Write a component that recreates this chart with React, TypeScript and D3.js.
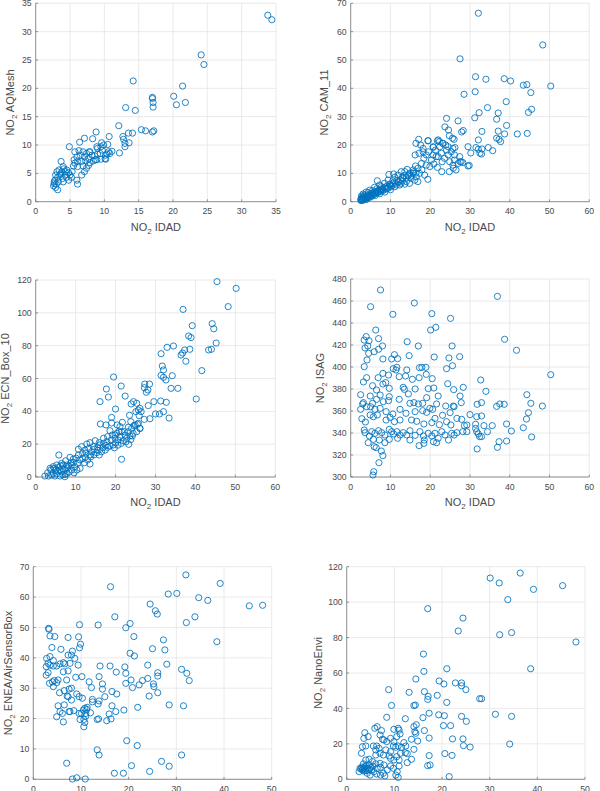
import React from 'react';
import * as d3 from 'd3';

type Pt = [number, number];

// NO2 IDAD (x) against each sensor (y)
const aqmeshPts: Pt[] = [
  [33.8, 32.9], [34.4, 32.1], [24.1, 25.9], [24.5, 24.2], [14.2, 21.3], [21.4, 20.4], [17.0, 18.4], [17.0, 18.2],
  [17.1, 17.5], [17.1, 16.7], [20.1, 18.6], [20.5, 17.1], [21.8, 17.5], [13.1, 16.6], [14.5, 16.1], [12.1, 13.4],
  [15.4, 12.7], [16.0, 12.5], [17.0, 12.3], [17.2, 12.5], [13.5, 12.1], [14.1, 12.1], [8.8, 12.3], [12.7, 11.5],
  [12.8, 11.0], [10.7, 11.5], [7.1, 11.2], [8.3, 11.1], [13.0, 10.3], [13.0, 9.7], [13.6, 10.4], [6.4, 10.5],
  [4.9, 9.7], [12.2, 8.6], [9.6, 10.4], [9.9, 10.0], [9.5, 9.7], [10.5, 10.1], [11.1, 8.9], [10.8, 8.5],
  [10.2, 8.2], [9.7, 9.1], [9.0, 9.4], [9.0, 8.4], [10.2, 7.5], [9.5, 7.5], [8.7, 7.4], [8.9, 9.7],
  [5.7, 8.8], [6.3, 9.0], [6.9, 8.8], [7.4, 8.5], [7.8, 8.8], [8.2, 8.2], [7.7, 7.6], [7.1, 7.9],
  [6.5, 8.2], [6.0, 7.9], [5.6, 7.4], [6.1, 7.1], [6.7, 7.1], [7.3, 7.2], [7.9, 6.9], [8.4, 7.2],
  [8.6, 8.1], [5.7, 6.8], [5.5, 6.3], [6.1, 6.2], [6.9, 6.3], [7.4, 5.9], [7.1, 5.3], [6.7, 4.7],
  [6.0, 3.8], [6.1, 3.1], [7.7, 6.4], [8.9, 7.4], [3.7, 7.1], [4.0, 6.2], [3.4, 5.6], [3.1, 5.3],
  [3.8, 5.3], [4.5, 5.6], [4.8, 5.1], [4.3, 4.7], [3.5, 4.7], [2.9, 4.7], [3.2, 4.3], [3.9, 4.1],
  [4.5, 4.3], [5.0, 4.7], [5.3, 5.3], [2.8, 3.8], [3.3, 3.5], [4.0, 3.5], [2.7, 3.2], [2.6, 2.8],
  [2.9, 2.5], [3.2, 2.1], [2.7, 3.5], [4.8, 3.8], [4.3, 5.3], [5.2, 4.3], [7.9, 8.8], [9.4, 8.5],
  [10.6, 8.8], [10.1, 7.6], [10.4, 8.4], [3.6, 4.9], [4.1, 5.8], [3.0, 3.1],
];

const camPts: Pt[] = [
  [32.1, 66.5], [48.3, 55.3], [27.5, 50.4], [31.4, 44.1], [34.0, 43.2], [38.6, 43.4], [40.2, 42.6], [43.4, 41.1],
  [44.3, 41.3], [50.3, 40.8], [31.3, 38.8], [28.5, 37.9], [45.3, 38.5], [39.1, 35.3], [34.4, 33.2], [32.3, 31.4],
  [37.1, 31.3], [44.7, 31.5], [45.5, 32.6], [31.2, 29.6], [24.1, 29.4], [27.0, 28.5], [36.7, 29.1], [39.2, 26.9],
  [23.7, 26.4], [24.6, 25.3], [28.3, 25.1], [27.9, 24.6], [37.1, 24.9], [33.0, 24.8], [41.9, 23.9], [44.4, 24.1],
  [38.7, 23.9], [36.7, 22.4], [37.3, 22.0], [37.7, 21.2], [24.8, 23.3], [25.6, 22.4], [26.0, 22.0], [32.1, 21.8],
  [29.5, 19.4], [26.2, 19.1], [23.9, 20.0], [23.1, 20.6], [31.5, 19.1], [32.1, 18.5], [33.0, 18.6], [34.6, 19.1],
  [35.7, 18.0], [30.2, 17.2], [32.5, 17.1], [32.9, 16.8], [17.1, 22.0], [16.4, 20.6], [19.5, 21.5], [21.8, 21.5],
  [22.3, 21.2], [20.8, 19.2], [27.5, 14.1], [28.2, 13.8], [29.8, 12.8], [25.8, 11.8], [24.8, 10.6], [26.5, 11.2],
  [22.9, 10.6], [19.4, 7.9], [16.2, 16.5], [6.7, 7.4], [9.6, 9.6], [10.8, 9.8], [11.9, 9.4], [13.0, 8.6],
  [13.6, 10.6], [14.2, 11.4], [14.8, 10.0], [15.7, 11.2], [16.3, 12.6], [16.9, 11.8], [17.8, 13.5], [18.4, 15.3],
  [19.0, 16.5], [19.6, 17.6], [20.3, 14.7], [20.7, 16.5], [21.3, 18.2], [22.0, 15.9], [22.8, 17.1], [23.6, 15.3],
  [24.5, 16.5], [24.9, 14.1], [25.7, 12.9], [26.1, 14.7], [27.0, 13.5], [27.8, 14.1], [19.0, 12.9], [19.9, 12.4],
  [20.9, 13.3], [21.8, 12.1], [17.9, 11.2], [17.3, 10.0], [16.5, 8.8], [15.2, 8.2], [14.0, 7.1], [12.7, 6.5],
  [11.5, 5.9], [10.2, 5.3], [9.0, 4.7], [7.7, 4.1], [6.4, 3.5], [5.2, 2.9], [4.3, 2.4], [3.5, 1.8],
  [2.8, 1.2], [2.5, 0.8], [9.4, 7.6], [10.6, 7.4], [11.9, 7.1], [8.5, 6.5], [7.3, 5.9], [6.0, 5.1],
  [4.8, 4.1], [3.9, 3.4], [3.1, 2.7], [2.7, 2.0], [3.3, 0.8], [3.9, 1.4], [4.8, 2.0], [5.6, 2.7],
  [6.9, 3.2], [8.1, 3.9], [9.4, 4.7], [11.1, 5.3], [12.3, 5.9], [13.6, 6.2], [14.8, 6.5], [16.1, 7.6],
  [16.9, 7.1], [13.1, 8.2], [14.4, 9.1], [15.7, 10.0], [11.1, 8.6], [9.8, 6.2], [7.7, 5.3], [12.7, 10.6],
  [18.6, 9.4], [23.2, 20.6], [19.4, 21.5], [22.0, 21.8], [24.5, 19.4], [25.7, 18.8], [24.1, 18.2], [25.3, 17.6],
  [26.1, 16.5], [27.4, 15.9], [29.5, 12.6], [23.0, 14.1], [21.5, 15.9], [20.7, 19.4], [22.4, 19.4], [18.2, 18.8],
  [17.6, 20.0], [17.2, 17.1], [18.2, 17.6], [2.6, 0.4], [3.0, 1.0], [4.1, 1.0], [5.0, 1.6], [6.2, 2.2],
  [7.3, 2.8], [8.6, 3.4], [10.0, 4.2], [4.4, 3.2], [5.5, 3.9], [3.4, 2.3], [2.9, 1.6], [6.6, 4.6],
  [2.7, 0.6], [2.9, 0.9], [3.1, 0.5], [3.3, 1.3], [3.6, 1.1], [3.8, 0.8], [4.0, 1.8], [4.2, 1.5],
  [4.5, 2.2], [4.7, 1.7], [5.0, 2.4], [5.3, 2.0], [5.5, 3.1], [5.8, 2.4], [6.0, 3.4], [6.3, 2.9],
  [6.6, 3.8], [6.9, 3.5], [7.2, 4.2], [7.5, 3.6], [7.8, 4.6], [8.1, 4.3], [8.4, 5.0], [8.8, 4.4],
  [9.1, 5.5], [9.5, 5.1], [9.9, 6.0], [10.3, 5.7], [10.7, 6.6], [11.2, 6.4], [11.6, 7.5], [12.0, 6.8],
  [12.5, 7.8], [13.0, 7.3], [13.4, 9.2], [14.0, 8.6], [14.6, 9.4], [15.2, 9.0], [15.8, 10.5], [16.4, 10.1],
];

const ecnPts: Pt[] = [
  [45.4, 119.0], [50.2, 114.9], [36.9, 102.1], [48.2, 103.8], [44.2, 93.4], [44.6, 90.3], [39.2, 92.2], [38.3, 85.9],
  [38.9, 84.9], [45.2, 81.6], [32.9, 79.0], [34.5, 79.8], [37.3, 77.4], [38.6, 77.8], [43.3, 77.4], [44.0, 77.8],
  [36.4, 74.3], [36.8, 75.5], [31.4, 75.1], [37.6, 70.5], [31.7, 67.6], [41.6, 64.8], [32.0, 65.2], [31.4, 61.9],
  [32.0, 60.7], [32.6, 59.1], [34.2, 61.7], [19.5, 60.9], [21.4, 55.4], [17.7, 53.6], [22.4, 49.3], [18.2, 48.7],
  [20.0, 41.4], [16.1, 45.9], [27.3, 56.6], [28.5, 56.6], [27.2, 54.4], [27.7, 51.6], [28.1, 53.0], [33.9, 54.0],
  [35.6, 54.0], [40.2, 47.5], [29.6, 45.9], [31.3, 46.3], [32.7, 45.5], [23.9, 44.5], [24.5, 45.9], [25.3, 44.9],
  [25.1, 39.8], [25.7, 40.8], [26.1, 41.8], [28.2, 43.5], [26.4, 39.8], [30.0, 38.4], [31.0, 38.4], [32.0, 39.8],
  [33.4, 35.9], [28.6, 35.5], [27.2, 35.1], [25.9, 37.4], [21.5, 10.8], [23.5, 37.6], [23.8, 33.7], [23.2, 30.3],
  [24.6, 31.3], [25.5, 32.1], [26.1, 29.6], [24.2, 25.0], [23.3, 19.9], [16.2, 32.3], [17.6, 31.7], [19.0, 32.9],
  [19.0, 36.3], [20.4, 31.7], [21.1, 30.7], [21.7, 33.3], [22.2, 27.6], [20.9, 27.8], [19.9, 25.6], [18.6, 28.2],
  [3.8, 4.3], [3.2, 0.6], [4.4, 2.2], [5.0, 4.3], [5.7, 5.9], [5.8, 13.4], [6.5, 3.2], [7.3, 4.7],
  [7.8, 2.2], [8.2, 6.7], [6.9, 7.3], [5.3, 7.3], [4.4, 6.3], [3.6, 5.3], [8.8, 8.7], [9.4, 10.8],
  [8.6, 12.0], [7.5, 9.9], [6.5, 8.3], [9.8, 6.3], [10.5, 8.3], [11.1, 10.4], [10.7, 13.4], [11.7, 14.4],
  [12.4, 12.0], [13.0, 10.4], [12.2, 8.7], [13.6, 13.4], [14.0, 15.4], [14.7, 16.9], [15.3, 14.8], [15.9, 13.4],
  [16.5, 15.4], [17.4, 16.4], [18.0, 18.1], [18.6, 18.9], [19.4, 19.5], [20.0, 20.9], [20.7, 22.5], [21.4, 20.5],
  [21.9, 22.1], [22.8, 23.6], [23.6, 25.0], [24.4, 26.6], [25.3, 27.6], [26.1, 29.6], [24.0, 29.6], [24.9, 31.7],
  [25.7, 32.7], [23.2, 27.6], [22.4, 25.6], [21.1, 24.6], [19.9, 23.6], [18.9, 22.5], [17.8, 21.5], [17.0, 20.5],
  [16.1, 19.5], [15.5, 18.1], [14.4, 18.5], [13.3, 17.5], [12.3, 16.4], [11.5, 18.5], [10.7, 16.9], [12.8, 20.1],
  [13.6, 20.9], [14.9, 22.1], [15.9, 20.9], [17.0, 23.6], [18.0, 24.6], [19.2, 25.6], [20.3, 26.6], [21.5, 27.6],
  [7.8, 7.3], [6.1, 4.3], [9.0, 4.3], [10.3, 4.3], [11.1, 5.3], [4.8, 0.6], [6.1, 0.6], [7.3, 0.2],
  [2.3, 0.6], [3.0, 2.6], [13.6, 7.9], [5.2, 1.8], [6.8, 1.4], [8.4, 3.0], [9.6, 2.6], [4.0, 1.2],
  [4.6, 5.2], [5.5, 3.5], [6.2, 6.8], [6.8, 5.0], [7.4, 1.6], [8.0, 5.5], [8.9, 7.2], [9.5, 8.9],
  [10.1, 11.5], [11.8, 11.2], [12.6, 14.6], [13.8, 12.3], [14.6, 13.5], [15.6, 16.2], [16.8, 17.8], [17.6, 19.2],
  [19.7, 17.8], [20.6, 19.4], [22.6, 21.4], [23.8, 22.8],
];

const isagPts: Pt[] = [
  [7.5, 470.0], [36.9, 464.2], [5.0, 454.8], [16.0, 458.2], [10.6, 447.9], [20.4, 448.5], [25.1, 444.2], [20.1, 433.6],
  [21.4, 436.1], [6.3, 433.6], [38.7, 425.2], [41.7, 415.2], [3.4, 424.5], [3.9, 427.6], [4.6, 423.9], [7.0, 425.8],
  [14.2, 423.0], [17.0, 419.1], [25.5, 419.1], [8.0, 419.1], [4.3, 419.1], [3.6, 417.3], [4.5, 412.4], [7.0, 416.1],
  [5.9, 413.9], [11.0, 411.2], [14.7, 410.3], [21.0, 409.1], [24.7, 408.2], [27.4, 409.4], [25.6, 401.2], [4.1, 406.4],
  [8.1, 407.3], [10.3, 407.3], [11.8, 407.6], [3.4, 400.3], [10.7, 398.5], [11.6, 399.7], [17.3, 399.4], [17.9, 399.7],
  [18.9, 399.7], [24.1, 398.5], [6.9, 390.3], [4.0, 390.3], [8.1, 394.2], [9.5, 392.7], [12.2, 391.2], [13.8, 391.8],
  [17.2, 390.3], [19.0, 393.3], [20.5, 389.4], [32.7, 388.2], [50.3, 393.0], [11.4, 397.3], [14.1, 397.3], [15.5, 388.8],
  [5.5, 383.0], [6.5, 379.1], [3.2, 386.4], [8.8, 385.8], [8.1, 384.5], [9.7, 380.6], [13.2, 381.5], [13.5, 379.7],
  [16.2, 380.0], [19.5, 380.3], [20.9, 380.9], [24.4, 384.8], [25.9, 379.4], [28.3, 381.5], [34.0, 377.9], [22.0, 373.6],
  [27.5, 373.6], [27.8, 367.6], [19.1, 372.1], [2.5, 374.8], [4.9, 373.6], [7.4, 374.5], [9.7, 373.0], [14.5, 375.5],
  [6.5, 370.6], [3.2, 367.6], [5.5, 367.0], [8.2, 368.5], [9.5, 369.4], [12.2, 370.6], [15.9, 367.6], [17.0, 366.4],
  [18.1, 367.0], [21.6, 366.4], [23.9, 364.5], [25.8, 364.5], [31.8, 366.1], [32.9, 367.6], [36.7, 364.2], [37.5, 366.4],
  [38.6, 366.1], [44.3, 374.8], [45.3, 367.0], [48.2, 364.5], [44.7, 358.5], [44.2, 352.7], [2.5, 361.5], [3.0, 366.4],
  [4.0, 363.9], [5.0, 363.9], [6.1, 361.5], [7.4, 362.4], [8.9, 359.4], [10.6, 357.3], [12.4, 361.5], [13.9, 357.9],
  [14.9, 367.0], [16.2, 359.4], [18.1, 360.3], [19.1, 358.8], [19.9, 362.4], [20.6, 361.5], [21.2, 353.3], [23.1, 356.1],
  [25.0, 358.5], [26.0, 363.9], [26.7, 353.3], [27.9, 352.4], [30.0, 356.7], [31.7, 354.8], [32.9, 355.5], [2.8, 353.0],
  [4.9, 356.4], [5.7, 354.8], [6.7, 356.4], [8.9, 351.8], [9.9, 354.2], [11.0, 350.3], [12.4, 351.8], [15.3, 351.8],
  [16.6, 350.6], [18.4, 348.2], [20.4, 349.4], [22.3, 347.6], [24.1, 350.3], [25.2, 347.3], [28.6, 346.7], [29.2, 347.3],
  [31.4, 347.9], [33.5, 346.7], [35.6, 346.7], [39.2, 348.2], [43.4, 344.8], [3.7, 350.0], [3.4, 342.7], [3.6, 340.3],
  [5.3, 341.2], [6.1, 339.7], [7.0, 342.1], [7.8, 340.3], [8.6, 338.2], [9.7, 343.3], [10.3, 341.2], [10.8, 339.1],
  [11.6, 341.2], [12.4, 338.2], [13.2, 340.3], [14.1, 338.2], [14.9, 342.1], [16.2, 337.9], [17.4, 341.2], [18.3, 337.3],
  [19.5, 339.7], [20.4, 337.3], [21.2, 339.7], [22.0, 335.2], [22.9, 341.2], [23.7, 338.2], [24.6, 333.6], [25.4, 339.7],
  [26.0, 338.2], [26.7, 340.3], [28.2, 341.2], [29.2, 341.2], [31.4, 344.2], [31.7, 341.2], [32.1, 339.1], [32.4, 336.7],
  [32.9, 336.7], [34.4, 341.2], [40.4, 341.8], [39.2, 332.7], [37.3, 332.1], [36.9, 327.0], [31.8, 325.5], [45.5, 336.4],
  [4.7, 337.3], [5.7, 334.2], [7.2, 333.6], [4.4, 331.2], [8.6, 331.2], [9.7, 334.2], [11.8, 335.2], [14.9, 333.6],
  [17.2, 328.5], [18.4, 330.6], [20.8, 332.1], [21.6, 331.2], [18.5, 333.6], [5.9, 327.6], [6.4, 326.7], [7.7, 323.6],
  [8.1, 319.4], [7.1, 313.0], [5.8, 304.8], [5.6, 301.8],
];

const eneaPts: Pt[] = [
  [16.2, 63.4], [32.0, 67.3], [39.2, 64.5], [28.3, 61.0], [30.1, 61.2], [34.7, 59.8], [36.6, 58.9], [45.3, 57.1],
  [48.1, 57.3], [24.5, 57.7], [25.6, 55.5], [26.0, 54.4], [17.1, 53.5], [33.9, 53.5], [32.1, 51.6], [13.6, 50.8],
  [20.3, 51.3], [19.4, 49.9], [9.7, 50.9], [21.1, 47.0], [38.5, 45.3], [3.2, 49.7], [3.3, 49.4], [3.5, 47.2],
  [4.5, 47.0], [7.3, 46.7], [9.5, 46.9], [9.9, 44.5], [9.7, 43.3], [3.9, 43.4], [5.8, 42.8], [8.2, 42.2],
  [25.0, 43.0], [27.3, 45.9], [27.6, 42.6], [20.3, 41.5], [21.2, 40.6], [28.0, 37.9], [2.8, 39.8], [3.5, 40.4],
  [4.2, 39.1], [5.6, 38.0], [6.3, 38.4], [6.6, 38.0], [7.3, 40.9], [8.0, 40.9], [8.7, 39.8], [9.4, 37.6],
  [7.7, 38.2], [3.1, 38.2], [2.7, 37.1], [3.5, 37.6], [4.2, 37.3], [4.9, 37.3], [14.0, 37.3], [16.1, 37.3],
  [17.4, 35.3], [19.2, 37.0], [19.4, 34.9], [24.0, 37.6], [26.1, 35.1], [31.1, 36.2], [32.2, 34.9], [32.7, 32.5],
  [2.7, 34.3], [3.1, 35.1], [3.4, 31.6], [4.0, 32.1], [4.4, 32.5], [4.9, 31.8], [5.2, 32.7], [4.2, 30.5],
  [6.3, 35.4], [7.0, 32.7], [7.3, 35.7], [8.0, 30.0], [8.9, 33.6], [10.2, 33.8], [5.5, 28.5], [6.5, 29.2],
  [7.5, 29.7], [9.1, 28.1], [10.3, 26.7], [9.6, 27.2], [7.1, 27.4], [8.0, 26.1], [11.7, 32.1], [12.2, 30.2],
  [13.8, 33.8], [14.5, 31.4], [14.5, 29.7], [15.0, 27.2], [12.4, 26.3], [12.4, 25.5], [13.6, 24.8], [13.8, 25.8],
  [16.5, 28.9], [17.5, 28.1], [16.5, 24.2], [17.3, 22.3], [15.9, 21.5], [16.3, 19.9], [15.4, 19.3], [19.0, 22.8],
  [19.4, 31.6], [20.5, 32.7], [20.8, 30.2], [22.2, 31.1], [22.9, 32.5], [24.0, 33.2], [25.2, 31.4], [25.3, 30.5],
  [26.1, 28.5], [24.3, 27.4], [21.9, 23.7], [28.5, 24.5], [31.5, 24.2], [26.1, 34.0], [5.2, 24.2], [5.6, 22.3],
  [4.9, 20.6], [6.1, 21.7], [6.3, 18.9], [6.5, 24.5], [7.3, 27.2], [7.7, 22.3], [7.5, 22.3], [8.5, 22.6],
  [9.6, 21.7], [9.8, 19.7], [10.1, 21.7], [10.6, 19.7], [10.8, 23.4], [11.2, 23.0], [10.5, 22.8], [11.0, 21.7],
  [11.0, 20.8], [10.8, 18.7], [10.6, 17.3], [11.3, 23.7], [13.4, 19.7], [13.7, 19.9], [12.0, 21.9], [19.6, 12.7],
  [21.8, 11.1], [13.4, 9.7], [13.8, 8.0], [31.1, 8.0], [7.0, 5.3], [26.9, 5.9], [20.6, 4.5], [28.5, 4.3],
  [24.4, 2.6], [17.0, 2.0], [18.9, 2.0], [8.2, 0.1], [9.1, 0.5], [10.9, 0.1],
];

const nanoPts: Pt[] = [
  [36.4, 116.4], [30.1, 113.6], [32.0, 110.8], [45.3, 109.3], [39.2, 107.2], [33.8, 101.4], [17.0, 96.3], [24.4, 91.0],
  [23.4, 83.7], [32.1, 81.6], [34.6, 82.8], [48.1, 77.5], [16.1, 70.7], [38.6, 62.4], [21.0, 62.4], [16.2, 60.9],
  [14.5, 56.6], [19.4, 55.5], [20.4, 53.8], [22.8, 54.4], [24.1, 54.4], [24.1, 52.8], [25.0, 50.6], [8.8, 50.6],
  [13.1, 49.1], [16.3, 49.5], [17.1, 46.8], [17.0, 45.1], [19.0, 47.4], [27.9, 45.5], [28.3, 45.5], [21.0, 43.4],
  [9.4, 41.7], [14.1, 41.6], [14.4, 41.9], [8.4, 35.0], [16.0, 34.8], [17.3, 37.3], [19.3, 36.4], [20.5, 35.9],
  [24.1, 35.5], [31.2, 36.7], [34.6, 35.5], [25.1, 32.7], [12.3, 34.2], [14.6, 30.8], [14.1, 29.7], [20.3, 30.3],
  [21.8, 30.3], [16.3, 27.5], [14.3, 26.9], [14.5, 26.0], [17.3, 23.3], [22.2, 22.8], [24.4, 22.8], [13.6, 22.6],
  [14.9, 21.6], [34.2, 19.9], [24.5, 19.0], [25.9, 18.2], [14.1, 16.9], [12.3, 15.0], [12.7, 14.5], [20.6, 14.5],
  [22.1, 13.5], [17.3, 13.4], [13.6, 11.3], [12.7, 9.4], [17.0, 7.7], [17.5, 8.1], [21.5, 1.5], [2.8, 6.2],
  [3.3, 5.3], [3.8, 7.1], [4.3, 6.2], [4.7, 8.1], [3.5, 8.7], [4.0, 10.9], [4.7, 11.3], [5.4, 10.0],
  [6.1, 8.7], [6.4, 6.2], [7.1, 6.8], [7.0, 9.0], [5.2, 5.3], [5.7, 4.3], [4.3, 3.4], [4.9, 2.4],
  [7.1, 2.4], [7.7, 3.4], [8.0, 1.9], [10.3, 2.4], [10.8, 1.1], [2.6, 4.3], [3.1, 14.7], [3.3, 18.4],
  [4.0, 18.8], [3.6, 23.1], [3.8, 26.3], [4.5, 24.1], [5.6, 18.8], [6.3, 18.8], [6.1, 16.6], [6.8, 17.5],
  [7.0, 14.7], [6.1, 13.7], [7.7, 13.7], [8.2, 16.6], [9.2, 15.6], [9.8, 18.8], [10.3, 18.1], [10.8, 18.8],
  [9.9, 21.3], [9.2, 23.1], [10.5, 24.1], [9.9, 28.2], [10.8, 28.8], [11.0, 27.8], [11.2, 25.6], [8.4, 21.3],
  [7.5, 22.6], [7.0, 25.0], [5.9, 28.8], [6.4, 29.7], [7.3, 27.5], [7.8, 22.2], [8.9, 13.2], [9.2, 11.8],
  [9.9, 10.9], [10.5, 12.8], [11.0, 10.9], [11.3, 14.7], [11.5, 18.1], [12.0, 20.7], [12.4, 18.8], [8.5, 5.3],
  [9.2, 7.5], [9.8, 6.2], [7.8, 8.1], [11.0, 7.5], [10.6, 4.3], [6.3, 3.0], [3.0, 5.8], [3.6, 4.6],
  [4.1, 7.6], [5.0, 6.6], [3.2, 6.9], [3.4, 5.9], [3.9, 5.0], [4.5, 4.8], [3.7, 6.4], [4.8, 5.7],
  [5.5, 7.4],
];

const ticks05 = d3.range(0, 36, 5);
const ticks10to60 = d3.range(0, 61, 10);
const ticks10to70 = d3.range(0, 71, 10);
const ticks10to50 = d3.range(0, 51, 10);
const ticks20to120 = d3.range(0, 121, 20);
const ticksIsag = d3.range(300, 481, 20);

const FONT = '"Liberation Sans", Arial, Helvetica, sans-serif';
const TEXT = '#4a4a4a';
const GRID = '#e5e5e5';
const AXIS = '#7a7a7a';
const MARK = '#0072BD';

type Frame = { left: number; right: number; top: number; bottom: number };

interface PanelProps {
  frame: Frame;
  xDomain: [number, number];
  xTicks: number[];
  yDomain: [number, number];
  yTicks: number[];
  points: Pt[];
  sensor: string;
  yLabelX: number;
  showXLabel: boolean;
}

function Panel({ frame, xDomain, xTicks, yDomain, yTicks, points, sensor, yLabelX, showXLabel }: PanelProps) {
  const x = d3.scaleLinear().domain(xDomain).range([frame.left, frame.right]);
  const y = d3.scaleLinear().domain(yDomain).range([frame.bottom, frame.top]);
  const midY = (frame.top + frame.bottom) / 2;
  const midX = (frame.left + frame.right) / 2;

  return (
    <g>
      {/* grid */}
      {xTicks.map((t) => (
        <line key={'gx' + t} x1={x(t)} x2={x(t)} y1={frame.top} y2={frame.bottom} stroke={GRID} strokeWidth={0.8} />
      ))}
      {yTicks.map((t) => (
        <line key={'gy' + t} x1={frame.left} x2={frame.right} y1={y(t)} y2={y(t)} stroke={GRID} strokeWidth={0.8} />
      ))}

      {/* axes with inward ticks */}
      <line x1={frame.left} x2={frame.right} y1={frame.bottom} y2={frame.bottom} stroke={AXIS} strokeWidth={0.8} />
      <line x1={frame.left} x2={frame.left} y1={frame.top} y2={frame.bottom} stroke={AXIS} strokeWidth={0.8} />
      {xTicks.map((t) => (
        <line key={'tx' + t} x1={x(t)} x2={x(t)} y1={frame.bottom} y2={frame.bottom - 2.4} stroke={AXIS} strokeWidth={0.8} />
      ))}
      {yTicks.map((t) => (
        <line key={'ty' + t} x1={frame.left} x2={frame.left + 2.4} y1={y(t)} y2={y(t)} stroke={AXIS} strokeWidth={0.8} />
      ))}

      {xTicks.map((t) => (
        <text key={'lx' + t} x={x(t)} y={frame.bottom + 12.5} textAnchor="middle" fontSize={8.7} fill={TEXT}>
          {t}
        </text>
      ))}
      {yTicks.map((t) => (
        <text key={'ly' + t} x={frame.left - 4} y={y(t) + 3.1} textAnchor="end" fontSize={8.7} fill={TEXT}>
          {t}
        </text>
      ))}

      {points.map(([px, py], i) => (
        <circle key={i} cx={x(px)} cy={y(py)} r={3.1} fill="none" stroke={MARK} strokeWidth={0.95} strokeOpacity={0.9} />
      ))}

      {showXLabel && (
        <text x={midX} y={frame.bottom + 29} textAnchor="middle" fontSize={11} fill={TEXT}>
          NO<tspan fontSize={8} dy={3}>2</tspan>
          <tspan dy={-3}> IDAD</tspan>
        </text>
      )}
      <text
        transform={`translate(${yLabelX},${midY}) rotate(-90)`}
        textAnchor="middle"
        fontSize={11}
        fill={TEXT}
      >
        NO<tspan fontSize={8} dy={3}>2</tspan>
        <tspan dy={-3}> {sensor}</tspan>
      </text>
    </g>
  );
}

export default function App() {
  return (
    <svg
      width={600}
      height={791}
      style={{ position: 'absolute', left: 0, top: 0, background: '#fff', fontFamily: FONT }}
    >
      <rect width={600} height={791} fill="#fff" />
      <Panel
        frame={{ left: 35.7, right: 276, top: 3.3, bottom: 201.7 }}
        xDomain={[0, 35]} xTicks={ticks05} yDomain={[0, 35]} yTicks={ticks05}
        points={aqmeshPts} sensor="AQMesh" yLabelX={13.5} showXLabel
      />
      <Panel
        frame={{ left: 350.7, right: 589.3, top: 3.3, bottom: 201.7 }}
        xDomain={[0, 60]} xTicks={ticks10to60} yDomain={[0, 70]} yTicks={ticks10to70}
        points={camPts} sensor="CAM_11" yLabelX={327.5} showXLabel
      />
      <Panel
        frame={{ left: 35.7, right: 275.3, top: 280, bottom: 477 }}
        xDomain={[0, 60]} xTicks={ticks10to60} yDomain={[0, 120]} yTicks={ticks20to120}
        points={ecnPts} sensor="ECN_Box_10" yLabelX={8.5} showXLabel
      />
      <Panel
        frame={{ left: 350.7, right: 589.3, top: 279, bottom: 477 }}
        xDomain={[0, 60]} xTicks={ticks10to60} yDomain={[300, 480]} yTicks={ticksIsag}
        points={isagPts} sensor="ISAG" yLabelX={323.5} showXLabel
      />
      <Panel
        frame={{ left: 33.3, right: 271.7, top: 566.7, bottom: 779.3 }}
        xDomain={[0, 50]} xTicks={ticks10to50} yDomain={[0, 70]} yTicks={ticks10to70}
        points={eneaPts} sensor="ENEA/AirSensorBox" yLabelX={11.5} showXLabel={false}
      />
      <Panel
        frame={{ left: 346.7, right: 585, top: 566.7, bottom: 779.3 }}
        xDomain={[0, 50]} xTicks={ticks10to50} yDomain={[0, 120]} yTicks={ticks20to120}
        points={nanoPts} sensor="NanoEnvi" yLabelX={321.5} showXLabel={false}
      />
    </svg>
  );
}
